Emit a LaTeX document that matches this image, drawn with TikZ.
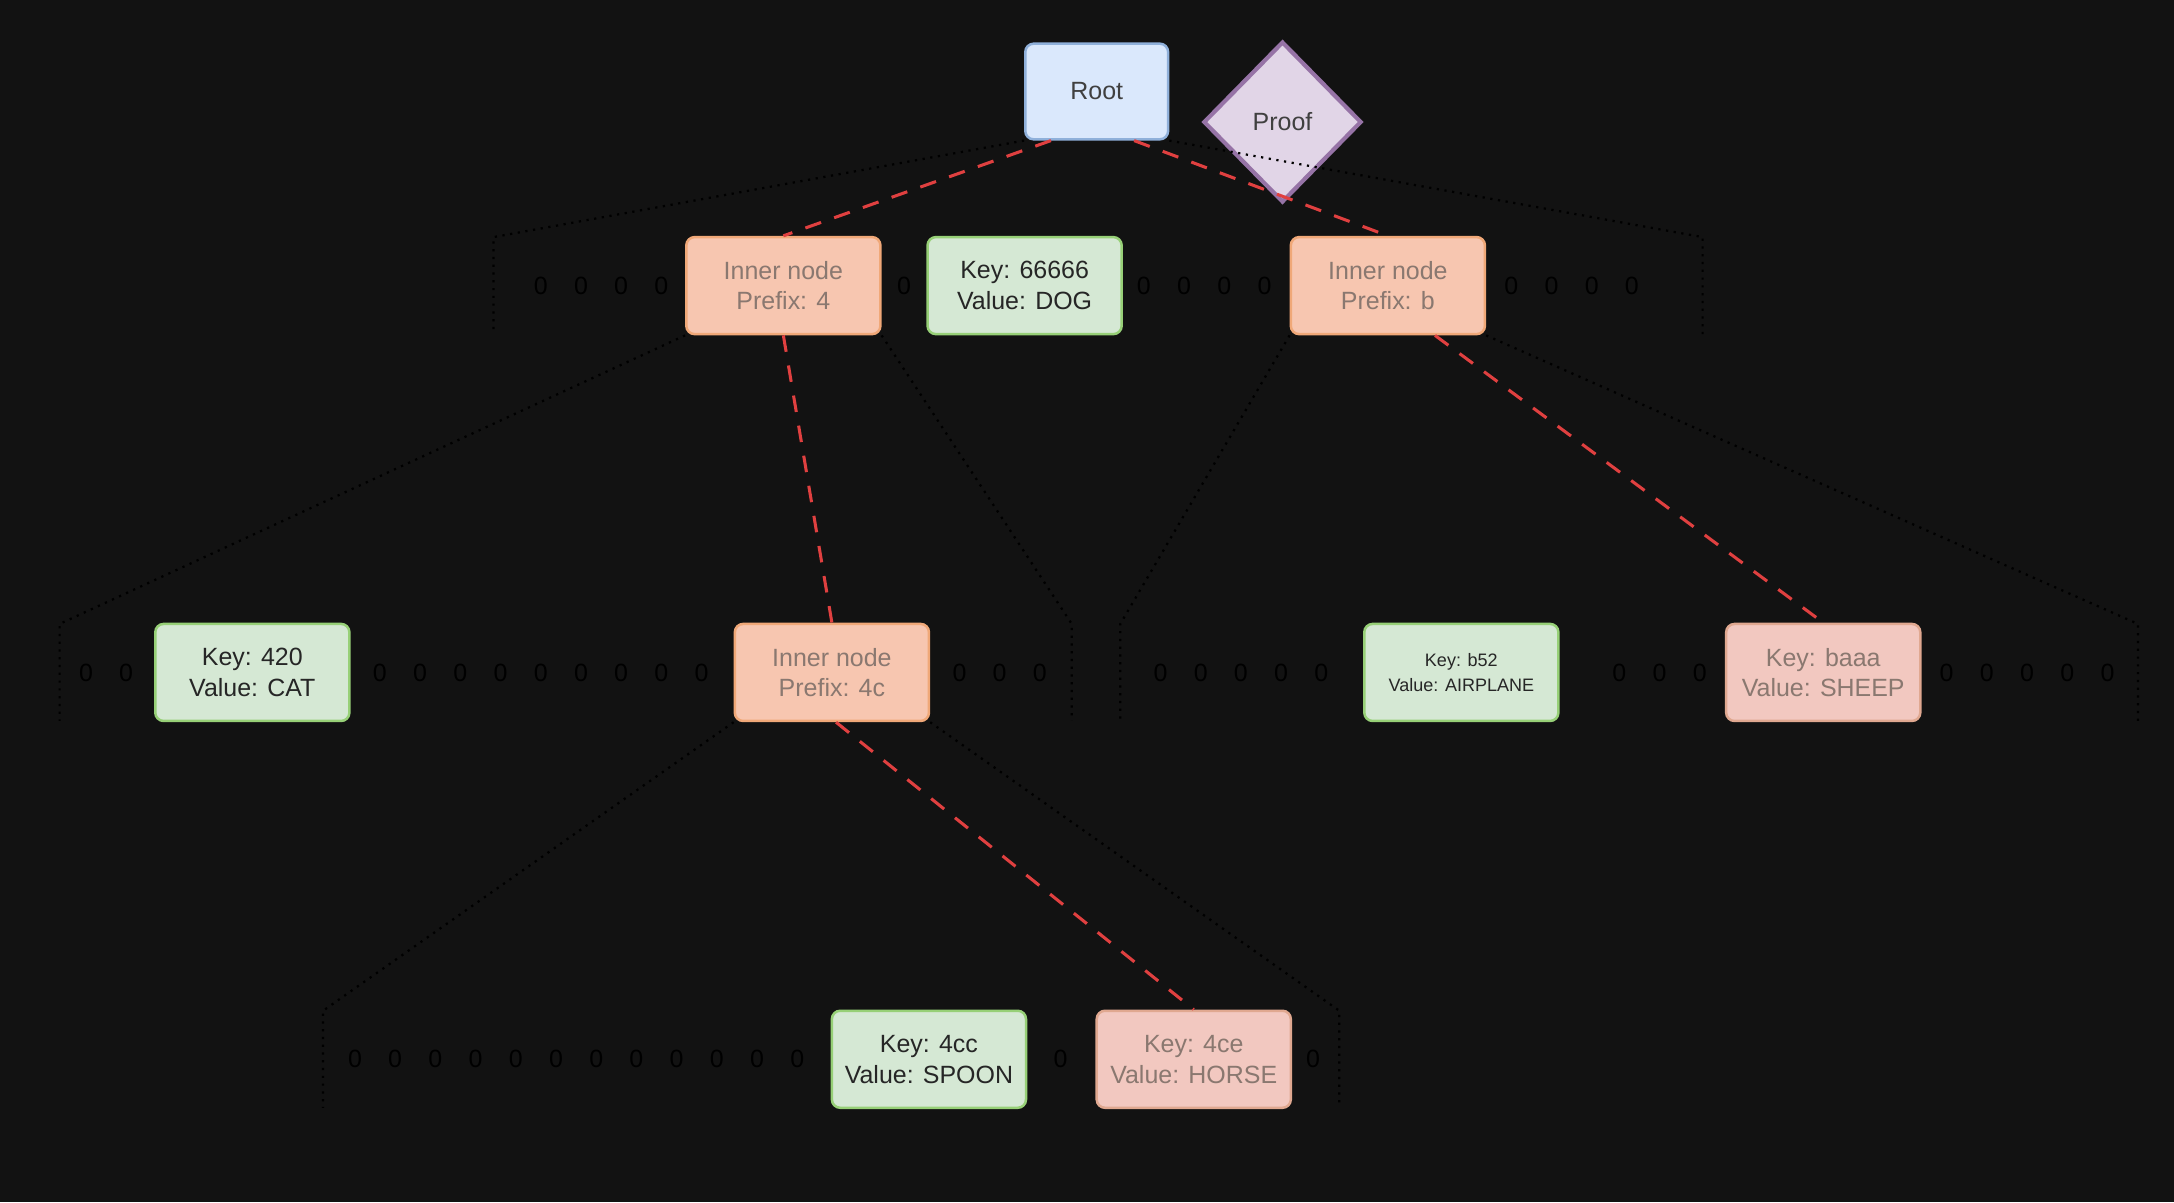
\documentclass[tikz,border=0pt]{standalone}
\usepackage{fontspec}
\setmainfont{Liberation Sans}
\usetikzlibrary{shapes.geometric}
\definecolor{bg}{HTML}{121212}
\definecolor{rootfill}{HTML}{DAE8FC}\definecolor{rootdraw}{HTML}{8FB0DA}
\definecolor{proofill}{HTML}{E1D5E7}\definecolor{proofdraw}{HTML}{9673A6}
\definecolor{innfill}{HTML}{F7C6B0}\definecolor{inndraw}{HTML}{F0A878}\definecolor{inntext}{HTML}{8A7870}
\definecolor{keyfill}{HTML}{D5E8D4}\definecolor{keydraw}{HTML}{97D077}
\definecolor{hitfill}{HTML}{F2C8C0}\definecolor{hitdraw}{HTML}{E0A890}
\definecolor{pathred}{HTML}{E04040}
\tikzset{
 box/.style={rounded corners=3pt,line width=0.9pt,minimum width=70pt,minimum height=35pt,align=center,font=\fontsize{9}{11}\selectfont,inner sep=1pt},
 inner/.style={box,fill=innfill,draw=inndraw,text=inntext},
 leaf/.style={box,fill=keyfill,draw=keydraw,text=black!85},
 hit/.style={box,fill=hitfill,draw=hitdraw,text=inntext},
 brk/.style={draw=black,dotted,line width=0.8pt},
 zero/.style={text=black,font=\fontsize{9}{11}\selectfont,inner sep=0pt},
 proofpath/.style={draw=pathred,dashed,line width=1.1pt,dash pattern=on 6pt off 5pt}
}
\begin{document}
\begin{tikzpicture}[x=0.5pt,y=-0.5pt]
\fill[bg] (0,0) rectangle (1568,867);
\useasboundingbox (0,0) rectangle (1568,867);
% nodes
\node[box,fill=rootfill,draw=rootdraw,text=black!75,minimum width=51.5pt,minimum height=34.5pt] (root) at (791,66) {Root};
\node[diamond,fill=proofill,draw=proofdraw,line width=1.5pt,minimum width=57pt,minimum height=58pt,inner sep=0pt,font=\fontsize{9}{11}\selectfont,text=black!75] (proof) at (925,88) {Proof};
\node[inner] (i4) at (565,206) {Inner node\\Prefix: 4};
\node[leaf] (k66) at (739,206) {Key: 66666\\Value: DOG};
\node[inner] (ib) at (1001,206) {Inner node\\Prefix: b};
\node[leaf] (k420) at (182,485) {Key: 420\\Value: CAT};
\node[inner] (i4c) at (600,485) {Inner node\\Prefix: 4c};
\node[leaf,font=\fontsize{6.5}{9}\selectfont] (kb52) at (1054,485) {Key: b52\\Value: AIRPLANE};
\node[hit] (kbaaa) at (1315,485) {Key: baaa\\Value: SHEEP};
\node[leaf] (k4cc) at (670,764) {Key: 4cc\\Value: SPOON};
\node[hit] (k4ce) at (861,764) {Key: 4ce\\Value: HORSE};
% bracket corners
\coordinate (a1) at (356,171); \coordinate (a2) at (356,241);
\coordinate (b1) at (1228,171); \coordinate (b2) at (1228,241);
\coordinate (c1) at (43,450); \coordinate (c2) at (43,520);
\coordinate (d1) at (773,450); \coordinate (d2) at (773,520);
\coordinate (e1) at (808,450); \coordinate (e2) at (808,520);
\coordinate (f1) at (1542,450); \coordinate (f2) at (1542,520);
\coordinate (g1) at (233,729); \coordinate (g2) at (233,799);
\coordinate (h1) at (966,729); \coordinate (h2) at (966,799);
\draw[brk] (root.south west) -- (a1) -- (a2);
\draw[brk] (root.south east) -- (b1) -- (b2);
\draw[brk] (i4.south west) -- (c1) -- (c2);
\draw[brk] (i4.south east) -- (d1) -- (d2);
\draw[brk] (ib.south west) -- (e1) -- (e2);
\draw[brk] (ib.south east) -- (f1) -- (f2);
\draw[brk] (i4c.south west) -- (g1) -- (g2);
\draw[brk] (i4c.south east) -- (h1) -- (h2);
% zeros
\foreach \x [count=\n] in {390,419,448,477,652,825,854,883,912,1090,1119,1148,1177}
  \node[zero] (za\n) at (\x,206) {0};
\foreach \x [count=\n] in {62,91,274,303,332,361,390,419,448,477,506,692,721,750,837,866,895,924,953,1168,1197,1226,1404,1433,1462,1491,1520}
  \node[zero] (zb\n) at (\x,485) {0};
\foreach \x [count=\n] in {256,285,314,343,372,401,430,459,488,517,546,575,765,947}
  \node[zero] (zc\n) at (\x,764) {0};
% proof path
\draw[proofpath] ([xshift=-16.5pt]root.south) -- (i4.north);
\draw[proofpath] ([xshift=13.5pt]root.south) -- (ib.north);
\draw[proofpath] (i4.south) -- (i4c.north);
\draw[proofpath] ([xshift=17pt]ib.south) -- (kbaaa.north);
\draw[proofpath] ([xshift=1.5pt]i4c.south) -- (k4ce.north);
\end{tikzpicture}
\end{document}
